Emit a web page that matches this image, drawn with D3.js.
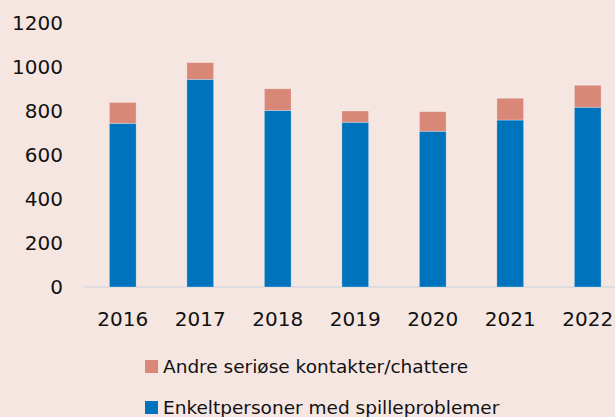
<!DOCTYPE html>
<html>
<head>
<meta charset="utf-8">
<script src="https://d3js.org/d3.v7.min.js"></script>
<style>
  body { margin: 0; background: #f5e6e2; }
  text { font-family: "DejaVu Sans", sans-serif; fill: #111; }
</style>
</head>
<body>
<svg id="chart"></svg>
<script>
// years and the two stacked series
var years = ["2016", "2017", "2018", "2019", "2020", "2021", "2022"];
var enkelt = [744, 944, 803, 749, 708, 759, 817];
var andre = [95, 76, 98, 51, 89, 99, 100];
var yTicks = [0, 200, 400, 600, 800, 1000, 1200];
var seriesNames = ["Andre seriøse kontakter/chattere", "Enkeltpersoner med spilleproblemer"];

var width = 615, height = 417;
var svg = d3.select("#chart").attr("width", width).attr("height", height);

svg.append("rect").attr("width", width).attr("height", height).attr("fill", "#f5e6e2");

var x = d3.scaleBand().domain(years).range([84, 626.5]).paddingInner(0.655).paddingOuter(0.3275);
var y = d3.scaleLinear().domain([0, 1200]).range([287, 23]);

var rows = years.map(function(yr, i) { return { year: yr, enkelt: enkelt[i], andre: andre[i] }; });
var stack = d3.stack().keys(["enkelt", "andre"])(rows);
var colors = { enkelt: "#0073bd", andre: "#d98878" };

// y labels
svg.append("g").selectAll("text")
  .data(yTicks).enter().append("text")
  .attr("x", 63)
  .attr("y", function(d) { return y(d); })
  .attr("dy", "0.36em")
  .attr("text-anchor", "end")
  .style("font-size", "20px")
  .text(function(d) { return d; });

// axis line
svg.append("line")
  .attr("x1", 84).attr("x2", width)
  .attr("y1", y(0)).attr("y2", y(0))
  .attr("stroke", "#d6d9e0").attr("stroke-width", 1.5);

// bars
svg.append("g").selectAll("g")
  .data(stack).enter().append("g")
  .attr("fill", function(s) { return colors[s.key]; })
  .selectAll("rect")
  .data(function(s) { return s; }).enter().append("rect")
  .attr("x", function(d) { return x(d.data.year); })
  .attr("width", x.bandwidth())
  .attr("y", function(d) { return y(d[1]); })
  .attr("height", function(d) { return y(d[0]) - y(d[1]); })
  .attr("stroke", "rgba(255,255,255,0.35)")
  .attr("stroke-width", 0.8);

// x labels
svg.append("g").selectAll("text")
  .data(years).enter().append("text")
  .attr("x", function(d) { return x(d) + x.bandwidth() / 2; })
  .attr("y", 326)
  .attr("text-anchor", "middle")
  .style("font-size", "20px")
  .text(function(d) { return d; });

// legend
var legend = svg.append("g").selectAll("g")
  .data(seriesNames).enter().append("g")
  .attr("transform", function(d, i) { return "translate(145," + (360 + i * 41) + ")"; });
legend.append("rect")
  .attr("width", 13).attr("height", 13)
  .attr("fill", function(d, i) { return i === 0 ? colors.andre : colors.enkelt; });
legend.append("text")
  .attr("x", 18).attr("y", 13)
  .style("font-size", "18.5px")
  .text(function(d) { return d; });
</script>
</body>
</html>
